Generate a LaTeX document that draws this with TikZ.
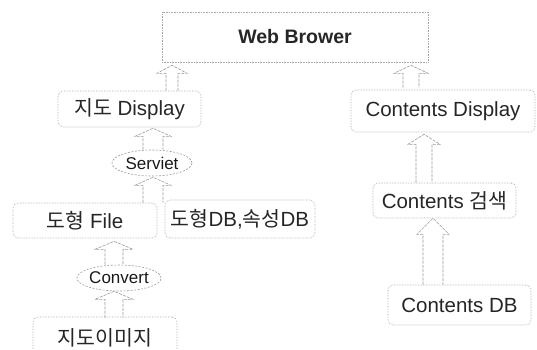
\documentclass[tikz,border=0pt]{standalone}
\usepackage{fontspec}
\setmainfont{Liberation Sans}
\newfontfamily\kr{Noto Sans CJK KR}[FakeStretch=1.0]
\usetikzlibrary{shapes.geometric,calc}
\tikzset{
  box/.style={draw=gray!70, densely dotted, rounded corners=5pt, line width=0.6pt,
    font=\fontsize{20.5}{23}\selectfont, text=black!85, inner sep=0pt, align=center},
  ell/.style={ellipse, draw=gray!75, dash pattern=on 2pt off 1.5pt, line width=0.6pt,
    font=\fontsize{17}{19}\selectfont, text=black!90, inner sep=0pt},
  barrow/.style={draw=gray!80, line width=0.6pt, dash pattern=on 3pt off 1.2pt}
}
\newcommand\blockarr[5]{%
  \draw[barrow] let \p1=(#1), \p2=(#2) in
    (\x1-#3pt,\y1) -- (\x1-#3pt,\y2-#5pt) -- (\x1-#4pt,\y2-#5pt) -- (\x1,\y2)
    -- (\x1+#4pt,\y2-#5pt) -- (\x1+#3pt,\y2-#5pt) -- (\x1+#3pt,\y1);}
\begin{document}
\begin{tikzpicture}[x=1pt,y=-1pt]
\useasboundingbox[fill=white] (0,0) rectangle (537,349);
% boxes
\node[box, rounded corners=0pt, minimum width=266pt, minimum height=50pt,
      font=\fontsize{19.5}{22}\selectfont\bfseries] (web) at (295,37) {Web Brower};
\node[box, minimum width=143pt, minimum height=36pt] (jd) at (129.5,109) {{\kr 지도} Display};
\node[box, minimum width=184pt, minimum height=42pt] (cd) at (443,111) {Contents Display};
\node[ell, minimum width=80pt, minimum height=26pt] (sv) at (152,163) {Serviet};
\node[box, minimum width=144pt, minimum height=35pt] (df) at (85,220.5) {{\kr 도형} File};
\node[box, minimum width=150pt, minimum height=38pt] (db) at (240,219) {{\kr 도형}DB,{\kr 속성}DB};
\node[ell, minimum width=78pt, minimum height=26pt] (cv) at (119,278) {Convert};
\node[box, minimum width=144pt, minimum height=42pt] (jm) at (105,338) {\kr 지도이미지};
\node[box, minimum width=143pt, minimum height=35pt] (cs) at (444.5,200.5) {Contents {\kr 검색}};
\node[box, minimum width=143pt, minimum height=40pt] (cdb) at (459.5,305) {Contents DB};
% arrow end points
\coordinate (a1s) at (jd.north -| 172,0);
\coordinate (a1e) at ([yshift=-3pt]web.south -| 172,0);
\coordinate (a2s) at ([yshift=2pt]cd.north -| 411,0);
\coordinate (a2e) at ([yshift=-3pt]web.south -| 411,0);
\coordinate (a3s) at (sv.north -| 153,0);
\coordinate (a3e) at ([yshift=-1pt]jd.south -| 153,0);
\coordinate (a4s) at (df.north -| 153,0);
\coordinate (a4e) at ([yshift=-1pt]sv.south -| 153,0);
\coordinate (a5s) at (cv.north -| 114,0);
\coordinate (a5e) at ([yshift=-3pt]df.south -| 114,0);
\coordinate (a6s) at ([yshift=-1pt]jm.north -| 114,0);
\coordinate (a6e) at (cv.south -| 114,0);
\coordinate (a7s) at (cs.north -| 424,0);
\coordinate (a7e) at ([yshift=-2pt]cd.south -| 424,0);
\coordinate (a8s) at (cdb.north -| 433,0);
\coordinate (a8e) at (cs.south -| 433,0);
% block arrows
\blockarr{a1s}{a1e}{6}{15}{8}
\blockarr{a2s}{a2e}{8}{17}{8}
\blockarr{a3s}{a3e}{10}{18}{8}
\blockarr{a4s}{a4e}{10}{18}{8}
\blockarr{a5s}{a5e}{9}{19}{8}
\blockarr{a6s}{a6e}{9}{19}{8}
\blockarr{a7s}{a7e}{8}{16}{10}
\blockarr{a8s}{a8e}{10}{16}{16}
\end{tikzpicture}
\end{document}
